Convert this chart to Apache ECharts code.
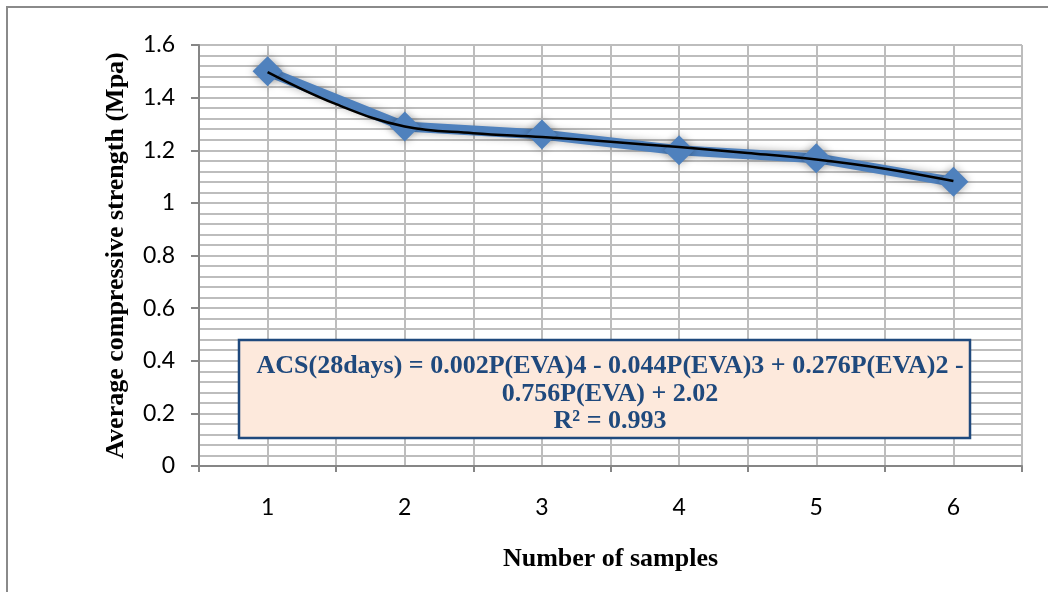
<!DOCTYPE html>
<html><head><meta charset="utf-8">
<script src="https://cdn.jsdelivr.net/npm/echarts@6/dist/echarts.min.js"></script>
<style>html,body{margin:0;padding:0;background:#fff}#c{width:1048px;height:592px}</style>
</head><body><div id="c"></div>
<script>
const categories = ['1','2','3','4','5','6'];
const sampleX = [1,2,3,4,5,6];
const strength = [1.50,1.29,1.26,1.20,1.17,1.08];
const trendX = [1,1.5,2,2.5,3,3.5,4,4.5,5,5.5,6];
const trendY = [1.497,1.375,1.29,1.265,1.25,1.232,1.212,1.19,1.165,1.13,1.083];
const yTicks = [0,0.2,0.4,0.6,0.8,1,1.2,1.4,1.6];
const eqLines = ['ACS(28days) = 0.002P(EVA)4 - 0.044P(EVA)3 + 0.276P(EVA)2 -','0.756P(EVA) + 2.02','R² = 0.993'];

const chart = echarts.init(document.getElementById('c'));
const gridCol = '#bdbdbd', axisCol = '#868686';
chart.setOption({
  animation:false,
  title:{text:eqLines.join('\n'),left:605,top:348,textAlign:'center',z:20,
    textStyle:{color:'#1f497d',fontFamily:'Liberation Serif, serif',fontWeight:'bold',fontSize:26,lineHeight:27.5}},
  grid:{left:199,right:26,top:45,bottom:126},
  xAxis:[{
    type:'value',min:0.5,max:6.5,interval:0.5,
    axisLine:{show:false},axisTick:{show:false},axisLabel:{show:false},
    splitLine:{show:true,lineStyle:{color:gridCol,width:2}}
  },{
    type:'category',data:categories,position:'bottom',boundaryGap:true,
    axisLine:{show:true,onZero:false,lineStyle:{color:axisCol,width:2}},
    axisTick:{show:true,length:6,lineStyle:{color:axisCol,width:2}},
    axisLabel:{color:'#000',fontFamily:'Lato, Carlito, sans-serif',fontSize:23,margin:30},
    splitLine:{show:false},
    name:'Number of samples',nameLocation:'middle',nameGap:80,
    nameTextStyle:{fontFamily:'Liberation Serif, serif',fontWeight:'bold',fontSize:26,color:'#000'}
  }],
  yAxis:{
    type:'value',min:0,max:1.6,interval:0.2,
    axisLine:{show:true,lineStyle:{color:axisCol,width:2}},
    axisTick:{show:true,length:8,lineStyle:{color:axisCol,width:2}},
    axisLabel:{color:'#000',fontFamily:'Lato, Carlito, sans-serif',fontSize:23,margin:24,
      formatter:v=>{const t=yTicks.find(x=>Math.abs(x-v)<1e-6);return t===undefined?'':String(t);}},
    splitLine:{show:true,lineStyle:{color:gridCol,width:2}},
    minorTick:{show:false,splitNumber:5},
    minorSplitLine:{show:true,lineStyle:{color:gridCol,width:2}},
    name:'Average compressive strength (Mpa)',nameLocation:'middle',nameGap:70,
    nameTextStyle:{fontFamily:'Liberation Serif, serif',fontWeight:'bold',fontSize:26,color:'#000'}
  },
  series:[{
    type:'line',xAxisIndex:0,data:sampleX.map((x,i)=>[x,strength[i]]),
    lineStyle:{color:'#4f81bd',width:10,shadowBlur:8,shadowColor:'rgba(0,0,0,0.3)'},
    symbol:'diamond',symbolSize:30,
    itemStyle:{color:'#4f81bd',shadowBlur:8,shadowColor:'rgba(0,0,0,0.35)'},
    z:2
  },{
    type:'line',xAxisIndex:0,data:trendX.map((x,i)=>[x,trendY[i]]),smooth:0.4,
    symbol:'none',lineStyle:{color:'#000',width:2.5},z:3
  }],
  graphic:[{
    type:'rect',z:10,shape:{x:239,y:340,width:731,height:98},
    style:{fill:'#fde9dc',stroke:'#1f497d',lineWidth:2.5}
  },{
    type:'polyline',shape:{points:[[7,592],[7,7],[1048,7]]},
    style:{stroke:'#8a8a8a',lineWidth:2,fill:null}
  }]
});
</script></body></html>
